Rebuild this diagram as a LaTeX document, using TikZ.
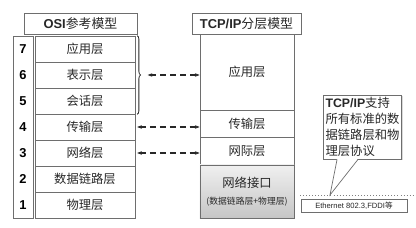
\documentclass[tikz,border=0pt]{standalone}
\usepackage{fontspec}
\setmainfont{Liberation Sans}
\newfontfamily\cjk{Noto Sans CJK SC}
\usetikzlibrary{arrows.meta, positioning, decorations.pathreplacing, shadows}
\definecolor{edgegray}{RGB}{110, 110, 110}
\definecolor{textgray}{RGB}{40, 40, 40}
\begin{document}
\begin{tikzpicture}[x=0.03cm, y=-0.03cm,
            box/.style={draw=edgegray, line width=0.6pt, fill=white, inner sep=0pt, font=\cjk\fontsize{10.5}{12}\selectfont, text=textgray, align=center},
            title/.style={box, minimum height=0.63cm, font=\fontsize{11}{13}\selectfont, drop shadow={shadow xshift=1pt, shadow yshift=-1pt, opacity=0.3}},
            layer/.style={box, minimum width=3cm, minimum height=0.78cm},
            num/.style={font=\bfseries\fontsize{11}{13}\selectfont},
            link/.style={{Stealth[length=4pt,width=3pt]}-{Stealth[length=4pt,width=3pt]}, dashed, dash pattern=on 5pt off 3.5pt, line width=1pt, textgray},
            >=Stealth]
  \useasboundingbox (0,0) rectangle (416,228);
  \node[title, minimum width=3.39cm] (osi) at (80.5,23.5) {\textbf{OSI}{\cjk 参考模型}};
  \node[box, minimum width=0.6cm, minimum height=5.46cm] (nums) at (23,127) {};
  \node[layer] (o7) at (85,49) {应用层};
  \node[layer] (o6) at (85,75) {表示层};
  \node[layer] (o5) at (85,101) {会话层};
  \node[layer] (o4) at (85,127) {传输层};
  \node[layer] (o3) at (85,153) {网络层};
  \node[layer] (o2) at (85,179) {数据链路层};
  \node[layer] (o1) at (85,205) {物理层};
  \foreach \n in {1,...,7}
    \node[num] at (nums.center |- o\n) {\n};
  \draw[decorate, decoration={brace, amplitude=3pt}, line width=0.7pt, textgray]
    ([xshift=1.5pt]o7.north east) -- ([xshift=1.5pt]o5.south east) coordinate[midway, xshift=4pt] (tip);
  \node[title, minimum width=3.27cm] (tcp) at (246.5,23.5) {\textbf{TCP/IP}{\cjk 分层模型}};
  \node[box, minimum width=2.82cm, minimum height=2.28cm] (t4) at (247,72) {应用层};
  \node[box, minimum width=2.82cm, minimum height=0.81cm] (t3) at (247,123.5) {传输层};
  \node[box, minimum width=2.82cm, minimum height=0.84cm] (t2) at (247,151) {网际层};
  \node[box, minimum width=2.82cm, minimum height=1.59cm, top color=gray!12, bottom color=gray!45] (t1) at (247,191.5)
    {网络接口\\[3pt]{\fontsize{7.5}{8}\selectfont (数据链路层+物理层)}};
  \draw[link] ([xshift=5pt]tip) -- (tip -| t4.west);
  \draw[link] ([xshift=1.5pt]o4.east) -- (o4.east -| t3.west);
  \draw[link] ([xshift=1.5pt]o3.east) -- (o3.east -| t2.west);
  \coordinate (lineL) at (300,195);
  \coordinate (lineR) at (416,195);
  \draw[dotted, line width=0.6pt, gray] (lineL) -- (lineR);
  \node[box, minimum width=2.25cm, minimum height=1.92cm, inner sep=2pt, align=left,
        font=\cjk\fontsize{10.5}{13.5}\selectfont,
        drop shadow={shadow xshift=1pt, shadow yshift=-1pt, opacity=0.3}] (note) at (362.5,127)
    {{\rmfamily\bfseries TCP/IP}支持\\所有标准的数\\据链路层和物\\理层协议};
  \coordinate (ptr) at (330,195);
  \fill[white] ([xshift=-21.7pt, yshift=0.5pt]note.south) -- (ptr) -- ([xshift=-3.8pt, yshift=0.5pt]note.south) -- cycle;
  \draw[edgegray, line width=0.6pt] ([xshift=-21.7pt]note.south) -- (ptr) -- ([xshift=-3.8pt]note.south);
  \node[box, minimum width=3.18cm, minimum height=0.39cm, font=\fontsize{6.5}{7}\selectfont, anchor=north] (eth) at (354,199)
    {Ethernet 802.3,FDDI{\cjk 等}};
\end{tikzpicture}
\end{document}
